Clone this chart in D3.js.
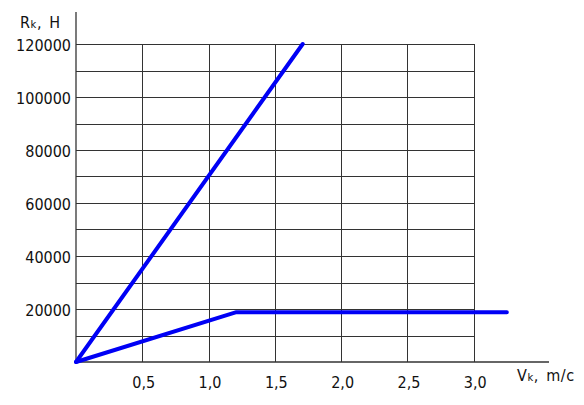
<!DOCTYPE html>
<head>
    <meta charset="utf-8">
    <title>Rk(Vk)</title>
    <script src="https://d3js.org/d3.v7.min.js"></script>
    <style>
        body { margin: 0; background: #fff; }
        text { font-family: "DejaVu Sans Condensed", "Liberation Sans Narrow", "DejaVu Sans", sans-serif; font-size: 16px; fill: #111; }
        .grid line { stroke: #333; stroke-width: 1px; shape-rendering: crispEdges; }
        .axis-line { stroke: #333; stroke-width: 1.3px; }
        .curve { fill: none; stroke: #0000f5; stroke-width: 4px; stroke-linecap: round; stroke-linejoin: round; }
        .title { letter-spacing: 0.6px; word-spacing: 2px; }
    </style>
</head>
<body>
<div id="chart"></div>
<script>
    // data
    const xTicks = [0.5, 1.0, 1.5, 2.0, 2.5, 3.0];
    const yTicks = [20000, 40000, 60000, 80000, 100000, 120000];
    const yGrid = d3.range(10000, 120001, 10000);
    const steepLine = [[0, 0], [1.71, 120000]];
    const kneeLine = [[0, 0], [1.21, 18800], [3.25, 18800]];

    const width = 584, height = 405;
    const svg = d3.select("#chart").append("svg")
        .attr("width", width).attr("height", height);

    // scales
    const x = d3.scaleLinear().domain([0, 3]).range([76, 473.7]);
    const y = d3.scaleLinear().domain([0, 120000]).range([362, 44]);

    // grid
    const grid = svg.append("g").attr("class", "grid");
    grid.selectAll(".h").data(yGrid).enter().append("line")
        .attr("x1", x(0)).attr("x2", x(3))
        .attr("y1", d => Math.round(y(d)) + 0.5).attr("y2", d => Math.round(y(d)) + 0.5);
    grid.selectAll(".v").data(xTicks).enter().append("line")
        .attr("y1", y(0)).attr("y2", y(120000))
        .attr("x1", d => Math.round(x(d)) + 0.5).attr("x2", d => Math.round(x(d)) + 0.5);

    // axes lines
    svg.append("line").attr("class", "axis-line")
        .attr("x1", x(0)).attr("x2", x(0)).attr("y1", 12).attr("y2", y(0));
    svg.append("line").attr("class", "axis-line")
        .attr("x1", x(0)).attr("x2", 549).attr("y1", y(0)).attr("y2", y(0));

    // tick labels
    svg.selectAll(".ylab").data(yTicks).enter().append("text")
        .attr("x", 71).attr("y", d => y(d) + 7)
        .attr("text-anchor", "end")
        .text(d => d);
    svg.selectAll(".xlab").data(xTicks).enter().append("text")
        .attr("x", d => x(d) + 1.5).attr("y", 388)
        .attr("text-anchor", "middle")
        .text(d => d.toFixed(1).replace(".", ","));

    // axis titles
    const ry = svg.append("text").attr("class", "title").attr("x", 20).attr("y", 28);
    ry.append("tspan").text("R");
    ry.append("tspan").style("font-size", "11px").text("k");
    ry.append("tspan").text(", H");

    const vx = svg.append("text").attr("class", "title").attr("x", 517).attr("y", 381);
    vx.append("tspan").text("V");
    vx.append("tspan").style("font-size", "11px").text("k");
    vx.append("tspan").text(", m/c");

    // curves
    const line = d3.line().x(d => x(d[0])).y(d => y(d[1]));
    svg.append("path").attr("class", "curve").attr("d", line(steepLine));
    svg.append("path").attr("class", "curve").attr("d", line(kneeLine));
</script>
</body>
</html>
